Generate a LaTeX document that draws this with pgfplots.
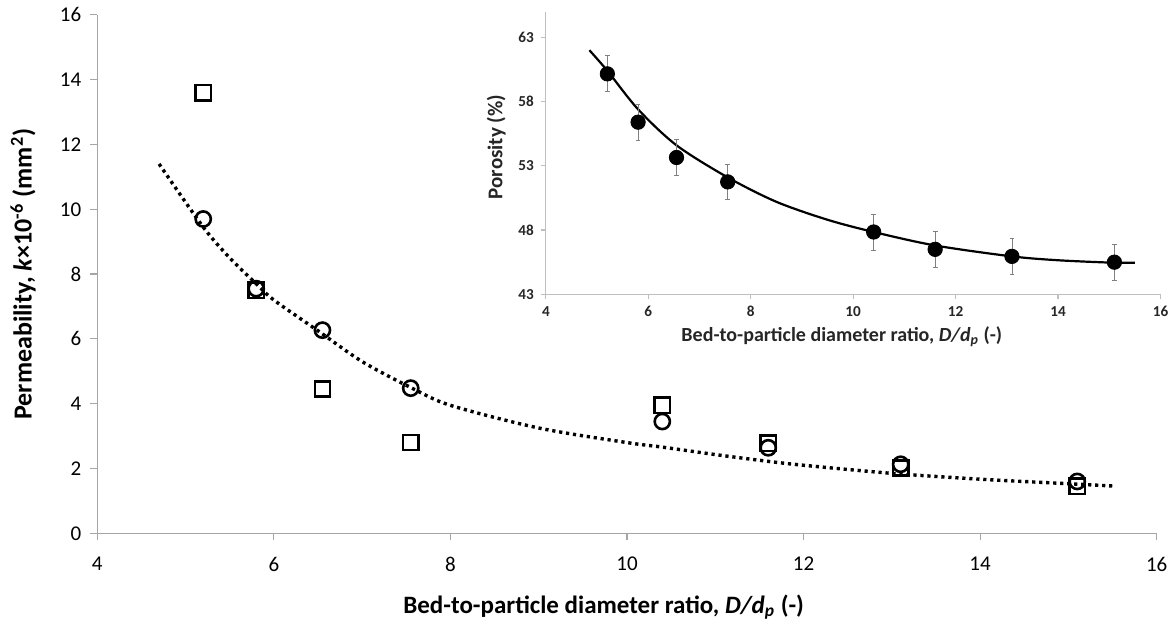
\documentclass[border=0pt]{standalone}
\usepackage{pgfplots}
\pgfplotsset{compat=1.18}
\usepackage{fontspec}
\setmainfont{Carlito}
\begin{document}
\begin{tikzpicture}
\begin{axis}[
  at={(0,0)}, anchor=origin,
  scale only axis, width=529.7pt, height=259.2pt,
  xmin=4, xmax=16, ymin=0, ymax=16,
  xtick={4,6,...,16}, ytick={0,2,...,16},
  axis x line*=bottom, axis y line*=left,
  axis line style={gray!70, line width=0.6pt},
  tick style={gray!70, line width=0.6pt},
  tick align=outside, major tick length=3.5pt,
  /pgf/number format/assume math mode=true,
  ticklabel style={font=\fontsize{10.5}{12}\selectfont},
  xticklabel style={yshift=-5pt},
  yticklabel style={xshift=-1pt},
  xlabel={\textbf{Bed-to-particle diameter ratio, \textit{D/d\textsubscript{p}} (-)}},
  ylabel={\textbf{Permeability, \textit{k}×10\textsuperscript{-6} (mm\textsuperscript{2})}},
  xlabel style={font=\fontsize{12.5}{14}\selectfont, at={(axis description cs:0.478,-0.142)}, anchor=center},
  ylabel style={font=\fontsize{13}{15}\selectfont, at={(axis description cs:-0.0701,0.5)}, anchor=center, rotate=0},
  clip=false,
]
\addplot[black, line width=1.7pt, dash pattern=on 1.6pt off 1.9pt, smooth] coordinates {
(4.7,11.4) (5.2,9.45) (5.5,8.5) (5.8,7.7) (6.0,7.2) (6.5,6.25) (7.0,5.3) (7.55,4.5)
(8.0,3.95) (9.0,3.25) (10.0,2.8) (10.4,2.66) (11.0,2.43) (11.6,2.22) (12.0,2.1)
(13.0,1.85) (14.0,1.67) (15.0,1.53) (15.5,1.46)};
\addplot[only marks, mark=square, mark size=3.8pt, mark options={black, line width=1.3pt, fill=white}] coordinates {
(5.2,13.6) (5.8,7.5) (6.55,4.45) (7.55,2.8) (10.4,3.95) (11.6,2.78) (13.1,2.02) (15.1,1.45)};
\addplot[only marks, mark=o, mark size=3.8pt, mark options={black, line width=1.3pt}] coordinates {
(5.2,9.7) (5.8,7.55) (6.55,6.27) (7.55,4.48) (10.4,3.45) (11.6,2.64) (13.1,2.13) (15.1,1.6)};
\end{axis}
\begin{axis}[
  at={(224.3pt,119.5pt)}, anchor=origin,
  scale only axis, width=307.3pt, height=141.3pt,
  xmin=4, xmax=16, ymin=43, ymax=65,
  xtick={4,6,...,16}, ytick={43,48,53,58,63},
  axis x line*=bottom, axis y line*=left,
  axis line style={gray!50, line width=0.6pt},
  tick style={gray!50, line width=0.6pt},
  tick align=outside, major tick length=2.5pt,
  /pgf/number format/assume math mode=true,
  ticklabel style={font=\fontsize{7.6}{9}\selectfont\bfseries, text=black!85},
  xlabel={\textbf{Bed-to-particle diameter ratio, \textit{D/d\textsubscript{p}} (-)}},
  ylabel={\textbf{Porosity (\%)}},
  xlabel style={font=\fontsize{10}{12}\selectfont, text=black!85, at={(axis description cs:0.4815,-0.151)}, anchor=center},
  ylabel style={font=\fontsize{10.5}{12}\selectfont, text=black!85, at={(axis description cs:-0.081,0.521)}, anchor=center, rotate=0},
  clip=false,
]
\addplot[black, line width=1.1pt, smooth] coordinates {
(4.85,62.0) (5.2,60.4) (5.8,57.4) (6.55,54.6) (7.55,52.1) (8.5,50.2) (9.5,48.8)
(10.4,47.85) (11.6,46.8) (13.1,45.95) (14.0,45.65) (15.0,45.47) (15.5,45.45)};
\addplot[only marks, mark=*, mark size=3.6pt, mark options={black},
  error bars/.cd, y dir=both, y explicit,
  error bar style={gray, line width=0.4pt},
  error mark options={gray, line width=0.4pt, mark size=1.2pt, rotate=90}]
  coordinates {
(5.2,60.16) +- (0,1.4)
(5.8,56.4) +- (0,1.4)
(6.55,53.65) +- (0,1.4)
(7.55,51.75) +- (0,1.4)
(10.4,47.85) +- (0,1.4)
(11.6,46.5) +- (0,1.4)
(13.1,45.95) +- (0,1.4)
(15.1,45.5) +- (0,1.4)};
\end{axis}
\pgfresetboundingbox
\path (-48.65pt,-46.35pt) rectangle (538.85pt,266.65pt);
\end{tikzpicture}
\end{document}
